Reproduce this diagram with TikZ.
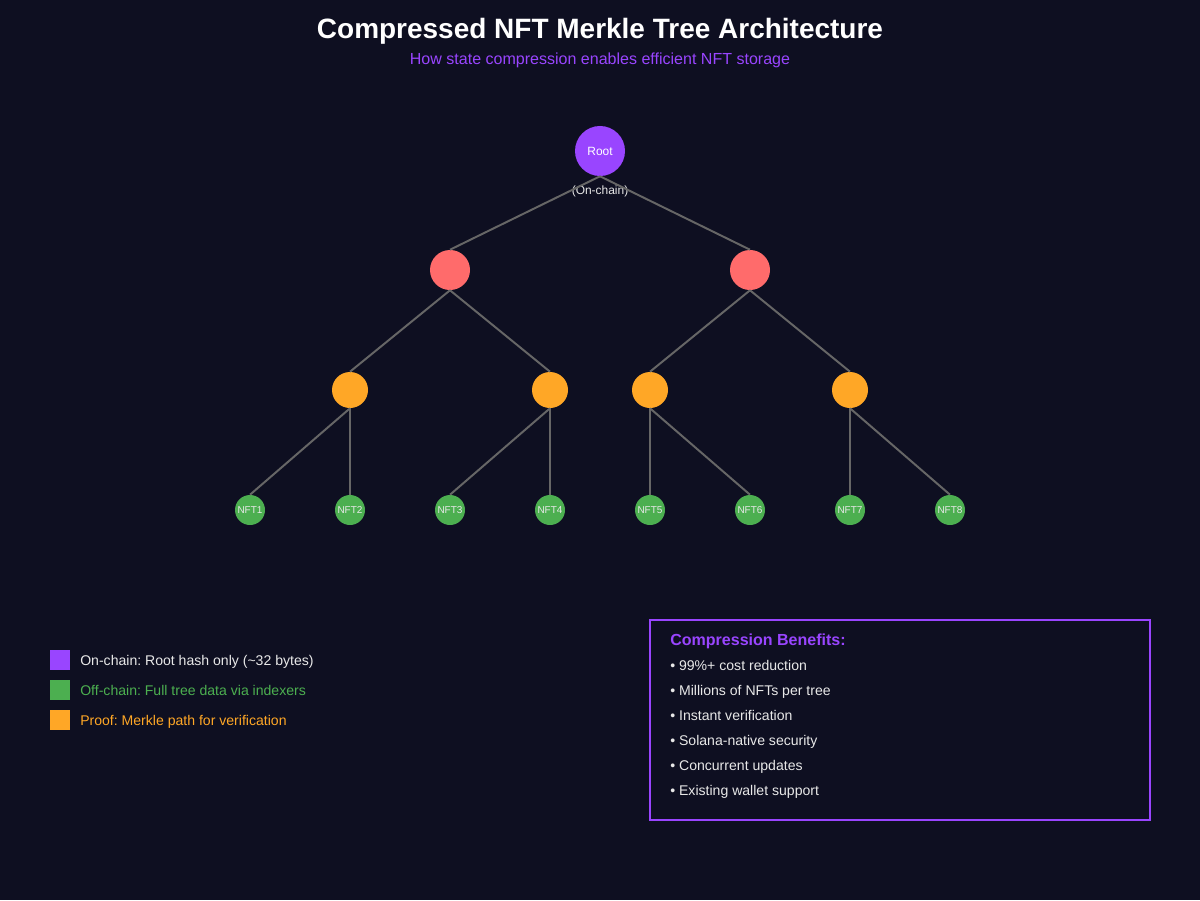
\documentclass[tikz,border=0pt]{standalone}
\usepackage{fontspec}
\setmainfont{Liberation Sans}
\usepackage{xcolor}
\usetikzlibrary{positioning}
\frenchspacing
\definecolor{bgdark}{HTML}{0E0F21}
\definecolor{solpurple}{HTML}{9945FF}
\definecolor{hashred}{HTML}{FF6B6B}
\definecolor{proofamber}{HTML}{FFA726}
\definecolor{leafgreen}{HTML}{4CAF50}
\definecolor{edgegray}{HTML}{666666}
\definecolor{softwhite}{HTML}{E8E8E8}
\tikzset{
  rootnode/.style={circle, fill=solpurple, minimum size=1.25cm, inner sep=0pt, text=white, font=\fontsize{8.5}{10}\selectfont},
  hashnode/.style={circle, fill=hashred, minimum size=1cm, inner sep=0pt},
  proofnode/.style={circle, fill=proofamber, minimum size=0.9cm, inner sep=0pt},
  leafnode/.style={circle, fill=leafgreen, minimum size=0.75cm, inner sep=0pt, text=softwhite, font=\fontsize{7.1}{8}\selectfont},
  treeedge/.style={draw=edgegray, line width=1.4pt},
  keybox/.style={fill=#1, minimum size=0.5cm, inner sep=0pt},
  keytext/.style={anchor=base west, inner sep=0pt, font=\fontsize{10}{12}\selectfont},
  benefit/.style={anchor=base west, inner sep=0pt, text=softwhite, font=\fontsize{10}{12}\selectfont}
}
\begin{document}
\begin{tikzpicture}[x=0.025cm, y=-0.025cm]
    \fill[bgdark] (0,0) rectangle (1200,900);
    \useasboundingbox (0,0) rectangle (1200,900);

    \node (title) at (600,31) {\fontsize{19.9}{24}\selectfont\bfseries\color{white}Compressed NFT Merkle Tree Architecture};
    \node (sub) at (600,60) {\fontsize{11.4}{14}\selectfont\color{solpurple}How state compression enables efficient NFT storage};

    % tree
    \node[rootnode] (root) at (600,151) {Root};
    \node[text=softwhite, font=\fontsize{8.5}{10}\selectfont] (onchain) at (600,191) {(On-chain)};

    \node[hashnode] (h1) at (450,270) {};
    \node[hashnode] (h2) at (750,270) {};

    \node[proofnode] (p1) at (350,390) {};
    \node[proofnode] (p2) at (550,390) {};
    \node[proofnode] (p3) at (650,390) {};
    \node[proofnode] (p4) at (850,390) {};

    \foreach \i in {1,...,8}
        \node[leafnode] (nft\i) at (150+100*\i,510) {NFT\i};

    \draw[treeedge] (root.south) -- (h1.north);
    \draw[treeedge] (root.south) -- (h2.north);
    \draw[treeedge] (h1.south) -- (p1.north);
    \draw[treeedge] (h1.south) -- (p2.north);
    \draw[treeedge] (h2.south) -- (p3.north);
    \draw[treeedge] (h2.south) -- (p4.north);
    \draw[treeedge] (p1.south) -- (nft1.north);
    \draw[treeedge] (p1.south) -- (nft2.north);
    \draw[treeedge] (p2.south) -- (nft3.north);
    \draw[treeedge] (p2.south) -- (nft4.north);
    \draw[treeedge] (p3.south) -- (nft5.north);
    \draw[treeedge] (p3.south) -- (nft6.north);
    \draw[treeedge] (p4.south) -- (nft7.north);
    \draw[treeedge] (p4.south) -- (nft8.north);

    % legend
    \node[keybox=solpurple] (k1) at (60,660) {};
    \node[keybox=leafgreen] (k2) at (60,690) {};
    \node[keybox=proofamber] (k3) at (60,720) {};
    \node[keytext, text=softwhite] (t1) at (80,665) {On-chain: Root hash only (\textasciitilde32 bytes)};
    \node[keytext, text=leafgreen] (t2) at (80,695) {Off-chain: Full tree data via indexers};
    \node[keytext, text=proofamber] (t3) at (80,725) {Proof: Merkle path for verification};

    % benefits box
    \draw[solpurple, line width=1.4pt] (650,620) rectangle (1150,820);
    \node[anchor=base west, inner sep=0pt, text=solpurple, font=\fontsize{11.4}{14}\selectfont\bfseries] (bhead) at (670,645.5) {Compression Benefits:};
    \node[benefit] (b1) at (670,670) {• 99\%+ cost reduction};
    \node[benefit] (b2) at (670,695) {• Millions of NFTs per tree};
    \node[benefit] (b3) at (670,720) {• Instant verification};
    \node[benefit] (b4) at (670,745) {• Solana-native security};
    \node[benefit] (b5) at (670,770) {• Concurrent updates};
    \node[benefit] (b6) at (670,795) {• Existing wallet support};
\end{tikzpicture}
\end{document}
